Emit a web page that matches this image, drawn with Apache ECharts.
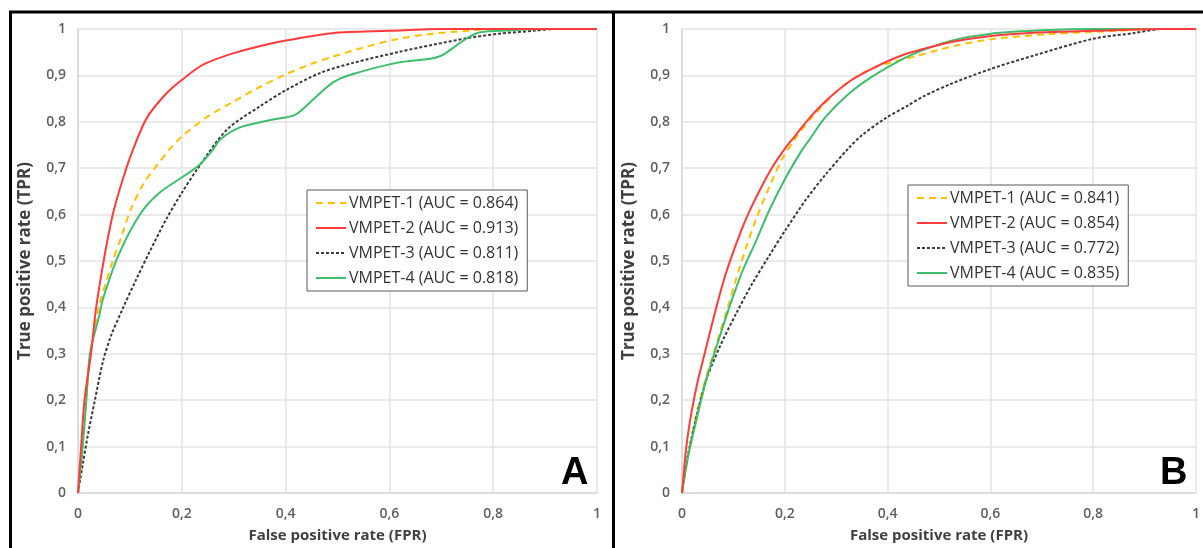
<!DOCTYPE html>
<html>
<head>
<meta charset="utf-8">
<script src="https://cdn.jsdelivr.net/npm/echarts@6/dist/echarts.min.js"></script>
<style>html,body{margin:0;padding:0;background:#fff}#c{width:1203px;height:548px}</style>
</head>
<body>
<div id="c"></div>
<script>
// ---- tick labels ----
var yTickLabels = ['0','0,1','0,2','0,3','0,4','0,5','0,6','0,7','0,8','0,9','1'];
var xTickLabels = ['0','0,2','0,4','0,6','0,8','1'];
var seriesNames = ['VMPET-1','VMPET-2','VMPET-3','VMPET-4'];
var aucA = ['0.864','0.913','0.811','0.818'];
var aucB = ['0.841','0.854','0.772','0.835'];

// ---- Panel A ----
var fprA1 = [0,0.009,0.016,0.024,0.040,0.067,0.086,0.102,0.128,0.152,0.176,0.2,0.248,0.299,0.35,0.402,0.45,0.49,0.55,0.614,0.684,0.75,0.8,1];
var tprA1 = [0,0.10,0.20,0.30,0.40,0.50,0.56,0.612,0.67,0.706,0.74,0.768,0.81,0.843,0.875,0.903,0.925,0.94,0.96,0.978,0.99,0.996,1,1];
var fprA2 = [0,0.006,0.0125,0.025,0.035,0.051,0.067,0.086,0.106,0.133,0.171,0.2,0.241,0.3,0.376,0.415,0.49,0.6,0.7,1];
var tprA2 = [0,0.10,0.20,0.30,0.40,0.51,0.60,0.675,0.74,0.809,0.862,0.89,0.923,0.948,0.970,0.978,0.991,0.996,1,1];
var fprA3 = [0,0.009,0.019,0.032,0.048,0.064,0.086,0.112,0.138,0.17,0.199,0.231,0.287,0.35,0.402,0.466,0.53,0.62,0.684,0.749,0.813,0.877,0.92,1];
var tprA3 = [0,0.061,0.125,0.197,0.283,0.34,0.397,0.46,0.52,0.59,0.645,0.70,0.783,0.833,0.869,0.905,0.927,0.951,0.966,0.98,0.99,0.996,1,1];
var fprA4 = [0,0.009,0.016,0.023,0.041,0.048,0.077,0.118,0.157,0.231,0.26,0.274,0.312,0.376,0.418,0.453,0.49,0.524,0.614,0.684,0.703,0.736,0.768,0.813,0.9,1];
var tprA4 = [0,0.10,0.20,0.30,0.383,0.418,0.51,0.598,0.647,0.704,0.74,0.762,0.788,0.805,0.815,0.848,0.884,0.901,0.927,0.937,0.944,0.97,0.991,0.996,1,1];

// ---- Panel B ----
var fprB1 = [0,0.015,0.03,0.047,0.073,0.089,0.105,0.125,0.144,0.17,0.195,0.221,0.253,0.311,0.363,0.414,0.46,0.524,0.601,0.717,0.846,0.92,1];
var tprB1 = [0,0.10,0.18,0.25,0.343,0.40,0.46,0.53,0.59,0.66,0.72,0.765,0.81,0.875,0.912,0.93,0.943,0.962,0.978,0.989,0.996,1,1];
var fprB2 = [0,0.0085,0.018,0.031,0.044,0.06,0.079,0.095,0.115,0.131,0.157,0.179,0.202,0.221,0.247,0.285,0.33,0.376,0.427,0.47,0.524,0.601,0.685,0.8,0.935,1];
var tprB2 = [0,0.10,0.171,0.243,0.30,0.371,0.45,0.505,0.565,0.607,0.665,0.708,0.745,0.771,0.807,0.85,0.89,0.918,0.943,0.957,0.972,0.985,0.992,0.996,1,1];
var fprB3 = [0,0.0085,0.025,0.047,0.073,0.105,0.137,0.17,0.202,0.241,0.279,0.324,0.35,0.395,0.441,0.47,0.524,0.601,0.685,0.8,0.878,0.935,1];
var tprB3 = [0,0.064,0.15,0.243,0.314,0.386,0.452,0.512,0.568,0.632,0.686,0.743,0.771,0.807,0.836,0.855,0.882,0.914,0.943,0.979,0.991,1,1];
var fprB4 = [0,0.012,0.028,0.047,0.073,0.092,0.118,0.144,0.17,0.202,0.234,0.247,0.279,0.324,0.369,0.427,0.47,0.524,0.601,0.717,0.8,1];
var tprB4 = [0,0.079,0.157,0.243,0.336,0.40,0.479,0.543,0.61,0.68,0.74,0.76,0.81,0.86,0.897,0.934,0.955,0.975,0.99,0.998,1,1];

function zip(xs, ys){ return xs.map(function(x,i){ return [x, ys[i]]; }); }

var colors = ['#FFC000','#FF3B3B','#3A3A3A','#3DBE6C'];
var lineTypes = [[7,5],'solid',[3,2],'solid'];
var FONT = '"Open Sans", "DejaVu Sans", sans-serif';

function xAxisCfg(gi){
  return {
    gridIndex: gi, type:'value', min:0, max:1, interval:0.2,
    name:'False positive rate (FPR)', nameLocation:'middle', nameGap:35,
    nameTextStyle:{fontFamily:FONT, fontSize:15, fontWeight:'bold', color:'#404040'},
    axisLine:{show:true, lineStyle:{color:'#d9d9d9', width:1.5}},
    axisTick:{show:false},
    splitLine:{show:true, lineStyle:{color:'#e3e3e3', width:1.5}},
    axisLabel:{fontFamily:FONT, fontSize:14, fontWeight:600, color:'#606060', margin:14,
      formatter:function(v){ return xTickLabels[Math.round(v/0.2)]; }}
  };
}
function yAxisCfg(gi){
  return {
    gridIndex: gi, type:'value', min:0, max:1, interval:0.1,
    name:'True positive rate (TPR)', nameLocation:'middle', nameGap:44,
    nameTextStyle:{fontFamily:FONT, fontSize:17, fontWeight:'bold', color:'#404040'},
    axisLine:{show:true, lineStyle:{color:'#d9d9d9', width:1.5}},
    axisTick:{show:false},
    splitLine:{show:true, lineStyle:{color:'#e3e3e3', width:1.5}},
    axisLabel:{fontFamily:FONT, fontSize:14, fontWeight:600, color:'#606060', margin:12,
      formatter:function(v){ return yTickLabels[Math.round(v*10)]; }}
  };
}

var dataA = [zip(fprA1,tprA1), zip(fprA2,tprA2), zip(fprA3,tprA3), zip(fprA4,tprA4)];
var dataB = [zip(fprB1,tprB1), zip(fprB2,tprB2), zip(fprB3,tprB3), zip(fprB4,tprB4)];

var series = [];
[dataA, dataB].forEach(function(ds, gi){
  var aucs = gi === 0 ? aucA : aucB;
  ds.forEach(function(d, i){
    series.push({
      name: seriesNames[i] + ' (AUC = ' + aucs[i] + ')' + (gi === 1 ? '\u200b' : ''),
      type:'line', xAxisIndex:gi, yAxisIndex:gi, data:d,
      smooth:0.3, showSymbol:false, symbol:'none',
      lineStyle:{color:colors[i], width:2, type:lineTypes[i]},
      itemStyle:{color:colors[i]},
      z: i === 1 ? 5 : 3
    });
  });
});

function legendCfg(gi, left, top){
  var aucs = gi === 0 ? aucA : aucB;
  return {
    orient:'vertical', left:left, top:top,
    data: seriesNames.map(function(n,i){ return n + ' (AUC = ' + aucs[i] + ')' + (gi === 1 ? '\u200b' : ''); }),
    itemWidth:30, itemHeight:14, itemGap:7, itemStyle:{opacity:0},
    padding:[4,9,4,8],
    backgroundColor:'#fff', borderColor:'#595959', borderWidth:1,
    textStyle:{fontFamily:FONT, fontSize:16, fontWeight:'normal', lineHeight:18, color:'#333', padding:[0,0,0,-2]},
    selectedMode:false
  };
}

var chart = echarts.init(document.getElementById('c'), null, {renderer:'canvas'});
chart.setOption({
  animation:false,
  backgroundColor:'#fff',
  grid:[
    {left:78, right:1203-597, top:29, bottom:548-495},
    {left:682, right:1203-1199, top:29, bottom:548-496}
  ],
  xAxis:[xAxisCfg(0), xAxisCfg(1)],
  yAxis:[yAxisCfg(0), yAxisCfg(1)],
  legend:[legendCfg(0, 307, 190), legendCfg(1, 908, 185)],
  series: series,
  graphic:[
    {type:'line', shape:{x1:9, y1:12, x2:1203, y2:12}, style:{stroke:'#000', lineWidth:3}, z:100},
    {type:'line', shape:{x1:10.5, y1:11, x2:10.5, y2:548}, style:{stroke:'#000', lineWidth:3}, z:100},
    {type:'line', shape:{x1:613.5, y1:11, x2:613.5, y2:548}, style:{stroke:'#000', lineWidth:3}, z:100},
    {type:'text', left:561, top:455, style:{text:'A', font:'bold 38px "Liberation Sans", Arial, sans-serif', fill:'#000'}, z:100},
    {type:'text', left:1160, top:455, style:{text:'B', font:'bold 38px "Liberation Sans", Arial, sans-serif', fill:'#000'}, z:100}
  ]
});
</script>
</body>
</html>
